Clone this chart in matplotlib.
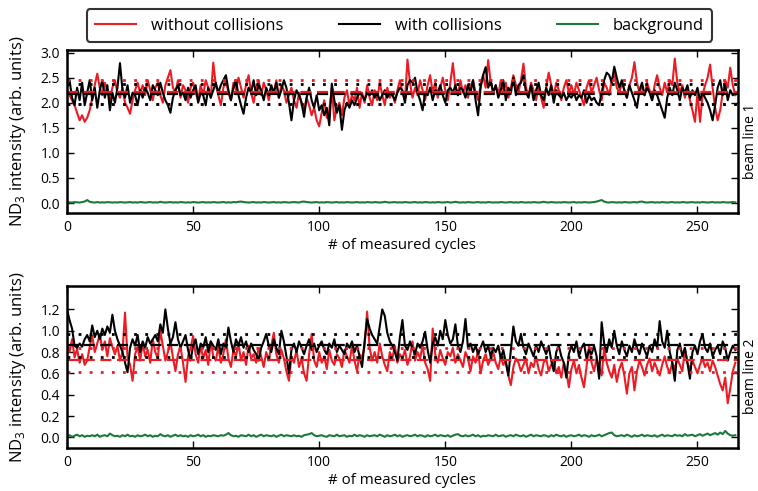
import numpy as np
import matplotlib
matplotlib.use("Agg")
import matplotlib.pyplot as plt

plt.rcParams['font.family'] = ['Open Sans', 'DejaVu Sans']
plt.rcParams['mathtext.fontset'] = 'custom'
plt.rcParams['mathtext.rm'] = 'Open Sans'

RED = '#ec1c24'
BLACK = '#000000'
GREEN = '#1b7a3a'

# beam line 1
bl1_without = [
    2.20, 2.15, 2.05, 1.95, 1.80, 1.65, 1.75, 1.62, 1.70, 1.85,
    2.10, 2.35, 2.58, 2.30, 2.15, 2.40, 2.25, 2.05, 2.30, 2.45,
    2.20, 2.10, 2.30, 2.00, 1.90, 1.78, 2.05, 2.25, 2.40, 2.20,
    2.35, 2.15, 2.45, 2.25, 2.05, 2.30, 2.40, 2.15, 2.00, 2.35,
    2.50, 2.65, 2.30, 2.20, 2.45, 2.10, 2.35, 2.25, 2.00, 2.30,
    2.40, 2.20, 2.05, 2.35, 2.15, 2.45, 2.30, 2.10, 2.80, 2.35,
    2.15, 1.95, 2.30, 2.45, 2.20, 2.05, 2.40, 2.25, 2.50, 2.30,
    2.10, 2.35, 2.55, 2.20, 2.00, 2.30, 2.45, 2.15, 2.40, 2.25,
    2.05, 2.30, 2.20, 2.45, 2.10, 2.35, 2.25, 2.00, 2.15, 2.30,
    2.05, 1.90, 2.20, 2.00, 1.85, 2.10, 1.95, 1.75, 1.90, 1.65,
    1.53, 1.80, 2.05, 1.70, 1.85, 2.30, 1.65, 1.90, 2.00, 1.75,
    2.10, 2.25, 1.95, 2.15, 2.05, 2.30, 1.90, 2.20, 2.00, 2.35,
    2.10, 1.95, 2.25, 2.05, 2.40, 2.15, 1.95, 2.30, 2.10, 2.20,
    2.00, 2.25, 2.45, 2.20, 2.05, 2.86, 2.40, 2.10, 2.30, 2.15,
    2.45, 2.25, 2.05, 2.35, 2.55, 2.20, 2.40, 2.10, 2.30, 2.50,
    2.25, 2.05, 2.40, 2.79, 2.30, 2.15, 2.45, 2.20, 2.35, 2.10,
    2.30, 2.45, 2.20, 2.05, 2.35, 2.55, 2.30, 2.85, 2.40, 2.20,
    2.35, 2.15, 2.45, 2.25, 2.40, 2.10, 2.30, 2.55, 2.35, 2.20,
    2.45, 2.78, 2.30, 2.15, 2.40, 2.25, 2.05, 2.35, 2.10, 1.90,
    2.30, 2.60, 2.35, 2.15, 2.40, 2.25, 2.05, 2.30, 2.45, 2.20,
    2.35, 2.15, 2.40, 2.25, 2.10, 1.95, 2.30, 2.45, 2.20, 2.35,
    2.50, 2.25, 2.05, 2.40, 2.30, 2.15, 2.45, 2.60, 2.30, 2.20,
    2.40, 2.25, 2.10, 2.35, 2.50, 2.81, 2.40, 2.20, 2.35, 2.15,
    2.40, 2.25, 2.05, 2.35, 2.55, 2.30, 2.15, 2.40, 2.20, 2.45,
    2.35, 2.88, 2.40, 2.20, 2.35, 2.10, 2.30, 2.05, 1.85, 1.62,
    2.20, 1.62, 2.15, 2.35, 2.50, 2.76, 2.30, 1.90, 1.65, 1.85,
    2.20, 2.45, 2.30, 2.70, 2.35, 2.15,
]
bl1_with = [
    2.50, 2.45, 2.10, 1.95, 2.30, 2.05, 2.40, 1.95, 2.20, 2.45,
    2.05, 2.30, 1.90, 2.25, 2.45, 2.10, 2.35, 1.85, 2.20, 2.00,
    2.30, 2.79, 2.25, 2.10, 2.35, 2.00, 2.20, 2.15, 1.95, 2.25,
    2.10, 2.30, 2.20, 2.05, 2.35, 2.25, 2.15, 2.40, 2.20, 2.05,
    1.95, 1.80, 2.10, 2.25, 2.35, 2.15, 2.20, 2.05, 2.30, 2.10,
    2.25, 2.35, 2.00, 2.20, 2.15, 1.95, 2.30, 2.10, 2.25, 2.40,
    2.20, 2.35, 2.45, 2.55, 2.25, 2.05, 2.30, 2.45, 2.15, 1.95,
    1.78, 2.10, 2.30, 2.20, 2.45, 2.15, 2.35, 2.25, 2.05, 2.30,
    2.15, 2.35, 2.20, 2.40, 2.10, 2.25, 2.45, 2.30, 2.00, 1.65,
    2.05, 2.25, 2.15, 2.00, 1.72, 2.10, 2.30, 2.05, 1.90, 2.15,
    1.85, 1.95, 1.75, 1.90, 1.55, 2.38, 2.05, 1.80, 1.95, 1.46,
    1.85, 2.00, 1.90, 2.05, 1.95, 2.10, 2.20, 2.15, 2.05, 2.20,
    2.15, 2.25, 2.10, 2.20, 2.05, 2.15, 2.25, 2.10, 2.20, 2.15,
    2.05, 2.20, 2.30, 2.25, 2.00, 2.35, 2.45, 2.40, 2.50, 2.20,
    2.05, 1.85, 2.20, 2.15, 2.30, 2.05, 2.25, 2.20, 2.35, 2.15,
    2.00, 2.25, 2.30, 2.20, 2.35, 2.15, 2.30, 2.25, 2.10, 2.35,
    2.20, 2.45, 2.05, 1.75, 2.30, 2.55, 2.71, 2.30, 2.45, 2.20,
    2.35, 2.10, 2.25, 2.45, 2.05, 2.30, 2.20, 2.50, 2.15, 2.35,
    2.40, 2.55, 2.20, 2.10, 2.35, 2.05, 2.25, 2.40, 2.15, 2.05,
    2.30, 2.15, 2.35, 2.00, 2.25, 2.15, 2.10, 2.20, 2.05, 2.15,
    2.10, 2.20, 2.05, 2.15, 2.10, 2.25, 2.00, 2.15, 2.05, 2.10,
    2.00, 1.95, 2.20, 2.45, 2.60, 2.55, 2.40, 2.72, 2.50, 2.30,
    2.45, 2.25, 2.10, 2.35, 2.20, 2.05, 1.90, 2.25, 2.40, 2.15,
    2.30, 2.20, 2.05, 2.25, 2.15, 2.00, 1.85, 1.70, 2.10, 2.30,
    2.15, 2.40, 2.25, 2.05, 2.30, 2.20, 2.35, 2.10, 2.25, 2.15,
    2.30, 2.05, 2.20, 2.10, 2.00, 1.85, 1.65, 1.95, 2.30, 2.45,
    2.15, 2.35, 2.05, 2.25, 2.15, 2.20,
]
bl1_background = [
    0.010, 0.015, 0.010, 0.020, 0.015, 0.010, 0.020, 0.030, 0.060, 0.025,
    0.015, 0.010, 0.020, 0.010, 0.015, 0.010, 0.020, 0.015, 0.010, 0.015,
    0.010, 0.020, 0.015, 0.010, 0.015, 0.020, 0.010, 0.015, 0.010, 0.020,
    0.015, 0.010, 0.015, 0.020, 0.010, 0.015, 0.010, 0.025, 0.015, 0.010,
    0.015, 0.020, 0.010, 0.015, 0.010, 0.020, 0.015, 0.010, 0.015, 0.010,
    0.020, 0.015, 0.010, 0.015, 0.020, 0.010, 0.015, 0.010, 0.020, 0.015,
    0.010, 0.015, 0.020, 0.010, 0.015, 0.010, 0.020, 0.015, 0.025, 0.030,
    0.020, 0.015, 0.010, 0.015, 0.020, 0.010, 0.015, 0.010, 0.020, 0.015,
    0.010, 0.015, 0.020, 0.010, 0.015, 0.010, 0.020, 0.015, 0.010, 0.015,
    0.020, 0.015, 0.010, 0.025, 0.030, 0.020, 0.015, 0.010, 0.015, 0.020,
    0.010, 0.015, 0.010, 0.020, 0.015, 0.010, 0.015, 0.020, 0.010, 0.015,
    0.010, 0.020, 0.015, 0.010, 0.015, 0.020, 0.010, 0.015, 0.010, 0.020,
    0.015, 0.010, 0.020, 0.015, 0.010, 0.015, 0.025, 0.015, 0.010, 0.015,
    0.020, 0.010, 0.015, 0.010, 0.020, 0.015, 0.010, 0.015, 0.020, 0.010,
    0.015, 0.010, 0.020, 0.015, 0.010, 0.015, 0.010, 0.020, 0.015, 0.010,
    0.015, 0.020, 0.010, 0.015, 0.025, 0.015, 0.010, 0.015, 0.010, 0.020,
    0.015, 0.010, 0.015, 0.020, 0.010, 0.015, 0.010, 0.020, 0.015, 0.010,
    0.015, 0.010, 0.020, 0.015, 0.010, 0.015, 0.020, 0.010, 0.015, 0.010,
    0.020, 0.015, 0.010, 0.015, 0.010, 0.020, 0.015, 0.010, 0.015, 0.025,
    0.015, 0.010, 0.020, 0.015, 0.010, 0.015, 0.010, 0.020, 0.015, 0.010,
    0.015, 0.020, 0.010, 0.015, 0.010, 0.020, 0.015, 0.010, 0.015, 0.020,
    0.030, 0.045, 0.060, 0.030, 0.015, 0.010, 0.020, 0.015, 0.010, 0.015,
    0.010, 0.020, 0.015, 0.010, 0.015, 0.020, 0.010, 0.025, 0.030, 0.015,
    0.010, 0.015, 0.020, 0.010, 0.015, 0.010, 0.020, 0.015, 0.010, 0.015,
    0.020, 0.010, 0.015, 0.010, 0.020, 0.015, 0.010, 0.015, 0.020, 0.010,
    0.015, 0.010, 0.020, 0.015, 0.010, 0.015, 0.020, 0.010, 0.015, 0.010,
    0.020, 0.015, 0.010, 0.015, 0.020, 0.015,
]

# beam line 2
bl2_without = [
    0.88, 0.80, 0.92, 0.75, 0.83, 0.70, 0.78, 0.68, 0.72, 0.85,
    0.95, 0.80, 0.88, 0.97, 0.82, 0.90, 0.76, 0.93, 0.85, 0.78,
    0.86, 0.72, 0.80, 1.17, 0.75, 0.68, 0.53, 0.78, 0.85, 0.72,
    0.88, 0.76, 0.82, 0.70, 0.92, 0.80, 0.74, 1.00, 0.86, 0.72,
    0.80, 0.90, 0.75, 0.62, 0.78, 0.85, 0.70, 0.52, 0.76, 0.84,
    0.95, 0.78, 0.70, 0.86, 0.74, 0.82, 0.68, 0.90, 0.76, 0.72,
    0.85, 0.70, 0.78, 0.92, 0.74, 0.66, 0.82, 0.76, 0.88, 0.72,
    0.80, 0.68, 0.86, 0.74, 0.78, 0.70, 0.84, 0.76, 0.66, 0.80,
    0.72, 0.86, 0.98, 0.78, 0.70, 0.82, 0.74, 0.62, 0.53, 0.76,
    0.70, 0.82, 0.66, 0.74, 0.60, 0.53, 0.78, 0.97, 0.72, 0.66,
    0.80, 0.70, 0.76, 0.64, 0.82, 0.72, 0.68, 0.78, 0.74, 0.66,
    0.82, 0.76, 0.70, 0.86, 0.72, 0.62, 0.78, 0.74, 0.86, 1.18,
    0.84, 0.72, 0.80, 0.70, 0.88, 0.76, 0.68, 0.62, 0.80, 0.74,
    0.86, 0.70, 0.78, 0.74, 0.82, 0.68, 0.76, 0.90, 0.72, 0.80,
    0.74, 0.86, 0.70, 0.64, 0.53, 1.02, 0.78, 0.70, 0.82, 0.74,
    0.68, 0.80, 0.76, 0.84, 0.70, 0.78, 0.72, 0.66, 0.80, 0.74,
    0.62, 0.76, 0.70, 0.82, 0.60, 0.72, 0.78, 0.68, 0.74, 0.80,
    0.70, 0.64, 0.76, 0.68, 0.72, 0.58, 0.49, 0.66, 0.74, 0.70,
    0.62, 0.68, 0.74, 0.60, 0.70, 0.66, 0.76, 0.64, 0.58, 0.70,
    0.74, 0.62, 0.68, 0.72, 0.60, 0.66, 0.56, 0.70, 0.62, 0.47,
    0.64, 0.72, 0.60, 0.68, 0.56, 0.47, 0.66, 0.86, 0.70, 0.62,
    0.74, 0.66, 0.58, 0.84, 0.70, 0.62, 0.56, 0.68, 0.52, 0.64,
    0.70, 0.58, 0.41, 0.60, 0.66, 0.44, 0.62, 0.72, 0.66, 0.58,
    0.68, 0.74, 0.62, 0.70, 0.64, 0.58, 0.68, 0.76, 0.66, 0.60,
    0.70, 0.64, 0.74, 0.68, 0.62, 0.83, 0.70, 0.64, 0.72, 0.66,
    0.60, 0.68, 0.74, 0.66, 0.70, 0.62, 0.72, 0.66, 0.58, 0.50,
    0.44, 0.56, 0.32, 0.46, 0.62, 0.70,
]
bl2_with = [
    1.20, 1.10, 1.02, 0.86, 0.84, 0.88, 0.85, 0.92, 0.96, 0.90,
    1.05, 0.94, 1.00, 0.92, 1.02, 0.96, 1.04, 0.98, 1.15, 1.00,
    0.92, 0.86, 0.80, 0.70, 0.61, 0.84, 0.92, 0.86, 0.96, 0.80,
    0.90, 0.84, 0.94, 0.88, 0.92, 0.96, 0.90, 1.06, 0.98, 1.20,
    1.02, 0.88, 0.94, 1.08, 0.92, 0.84, 0.90, 0.96, 0.82, 0.72,
    0.86, 0.92, 0.78, 0.88, 0.84, 0.94, 0.80, 0.90, 0.86, 0.82,
    0.92, 0.78, 0.88, 0.84, 1.03, 0.90, 0.80, 0.92, 0.86, 0.94,
    0.84, 0.90, 0.80, 0.88, 0.82, 0.78, 0.72, 0.84, 0.90, 0.97,
    0.86, 0.80, 0.92, 0.84, 0.78, 1.00, 0.90, 0.76, 0.60, 0.82,
    0.88, 0.80, 0.90, 0.84, 0.78, 0.86, 0.92, 0.82, 0.88, 0.80,
    0.86, 0.90, 0.82, 0.78, 0.88, 0.84, 0.92, 0.80, 0.86, 0.82,
    0.78, 0.88, 0.84, 0.90, 0.80, 0.86, 0.76, 0.66, 0.90, 1.11,
    1.02, 0.96, 0.92, 0.88, 1.04, 1.20, 1.14, 0.98, 0.90, 0.86,
    0.80, 0.72, 0.94, 1.10, 0.86, 0.82, 0.90, 0.84, 0.78, 0.88,
    0.84, 0.90, 0.99, 0.82, 0.70, 0.88, 0.94, 0.86, 1.00, 0.92,
    1.10, 0.96, 0.88, 0.92, 1.06, 0.86, 0.80, 0.90, 1.11, 0.84,
    0.88, 0.80, 0.86, 0.78, 0.84, 0.90, 0.80, 0.86, 0.76, 0.84,
    0.80, 0.86, 0.74, 0.82, 0.70, 0.58, 0.82, 1.04, 0.90, 0.86,
    0.97, 0.84, 0.78, 0.88, 0.82, 0.76, 0.86, 0.80, 0.90, 0.84,
    0.78, 0.86, 0.72, 0.62, 0.80, 0.86, 0.76, 0.70, 0.56, 0.78,
    0.86, 0.80, 0.90, 0.76, 0.84, 0.88, 0.74, 0.82, 0.78, 0.86,
    0.76, 0.55, 1.08, 0.88, 0.80, 0.92, 0.84, 1.00, 0.86, 0.78,
    0.90, 0.82, 0.76, 0.86, 0.80, 0.92, 0.84, 0.78, 0.88, 0.82,
    0.76, 0.86, 0.80, 0.92, 0.84, 1.09, 0.90, 0.84, 1.00, 0.80,
    0.70, 0.53, 0.82, 0.88, 0.76, 0.84, 0.70, 0.55, 0.80, 0.86,
    0.78, 0.90, 0.97, 0.84, 0.80, 0.88, 0.76, 0.82, 0.86, 0.78,
    0.90, 0.84, 0.72, 0.80, 0.86, 0.82,
]
bl2_background = [
    0.010, 0.020, 0.005, 0.015, 0.025, 0.010, 0.020, 0.005, 0.015, 0.010,
    0.020, 0.010, 0.025, 0.005, 0.015, 0.020, 0.010, 0.035, 0.020, 0.010,
    0.015, 0.005, 0.020, 0.010, 0.025, 0.010, 0.015, 0.005, 0.020, 0.010,
    0.015, 0.025, 0.010, 0.020, 0.005, 0.015, 0.010, 0.030, 0.015, 0.010,
    0.020, 0.005, 0.015, 0.025, 0.010, 0.020, 0.010, 0.015, 0.005, 0.020,
    0.010, 0.015, 0.025, 0.010, 0.020, 0.005, 0.015, 0.010, 0.020, 0.015,
    0.010, 0.020, 0.015, 0.025, 0.040, 0.020, 0.010, 0.015, 0.005, 0.020,
    0.015, 0.010, 0.025, 0.010, 0.020, 0.005, 0.015, 0.025, 0.010, 0.020,
    0.015, 0.010, 0.020, 0.005, 0.015, 0.025, 0.010, 0.020, 0.015, 0.010,
    0.020, 0.010, 0.015, 0.005, 0.020, 0.025, 0.030, 0.040, 0.020, 0.010,
    0.015, 0.020, 0.010, 0.005, 0.020, 0.015, 0.010, 0.025, 0.010, 0.015,
    0.020, 0.005, 0.015, 0.010, 0.025, 0.010, 0.020, 0.015, 0.005, 0.020,
    0.010, 0.015, 0.020, 0.010, 0.025, 0.015, 0.005, 0.020, 0.010, 0.015,
    0.025, 0.010, 0.020, 0.005, 0.015, 0.020, 0.010, 0.015, 0.025, 0.010,
    0.020, 0.015, 0.005, 0.020, 0.010, 0.015, 0.025, 0.010, 0.020, 0.015,
    0.010, 0.020, 0.005, 0.015, 0.025, 0.030, 0.015, 0.010, 0.020, 0.010,
    0.015, 0.025, 0.010, 0.020, 0.005, 0.015, 0.010, 0.020, 0.015, 0.010,
    0.025, 0.010, 0.015, 0.020, 0.005, 0.015, 0.020, 0.010, 0.025, 0.015,
    0.010, 0.020, 0.005, 0.015, 0.025, 0.010, 0.020, 0.015, 0.010, 0.020,
    0.015, 0.005, 0.020, 0.010, 0.025, 0.015, 0.010, 0.020, 0.005, 0.015,
    0.020, 0.010, 0.015, 0.025, 0.010, 0.020, 0.015, 0.005, 0.020, 0.010,
    0.015, 0.025, 0.010, 0.020, 0.030, 0.040, 0.045, 0.020, 0.010, 0.015,
    0.020, 0.010, 0.025, 0.015, 0.005, 0.020, 0.010, 0.015, 0.025, 0.010,
    0.020, 0.015, 0.010, 0.020, 0.005, 0.015, 0.025, 0.010, 0.020, 0.015,
    0.010, 0.025, 0.015, 0.020, 0.010, 0.030, 0.015, 0.020, 0.025, 0.010,
    0.020, 0.030, 0.015, 0.025, 0.035, 0.020, 0.030, 0.040, 0.025, 0.045,
    0.030, 0.060, 0.035, 0.020, 0.015, 0.020,
]

panels = [
    (bl1_without, bl1_with, bl1_background, (-0.2, 3.05), np.arange(0, 3.01, 0.5), 'beam line 1'),
    (bl2_without, bl2_with, bl2_background, (-0.1, 1.42), np.arange(0, 1.21, 0.2), 'beam line 2'),
]

fig = plt.figure(figsize=(7.58, 4.91), dpi=100)
ax_rects = [[0.0884, 0.566, 0.885, 0.332], [0.0884, 0.0876, 0.885, 0.330]]

for rect, (without, withc, bg, ylim, yticks, name) in zip(ax_rects, panels):
    ax = fig.add_axes(rect)
    cycles = np.arange(len(without))
    ax.plot(cycles, without, color=RED, lw=1.5, label='without collisions')
    ax.plot(cycles, withc, color=BLACK, lw=1.5, label='with collisions')
    ax.plot(np.arange(len(bg)), bg, color=GREEN, lw=1.5, label='background')

    # mean (dashed) and one standard deviation (dotted)
    for series, c in [(without, RED), (withc, BLACK)]:
        m, s = np.mean(series), np.std(series)
        ax.axhline(m, color=c, lw=1.6, ls=(0, (5, 2.5)))
        ax.axhline(m + s, color=c, lw=2.0, ls=(0, (1, 3)))
        ax.axhline(m - s, color=c, lw=2.0, ls=(0, (1, 3)))

    ax.set_xlim(0, 266)
    ax.set_ylim(*ylim)
    ax.set_xticks(np.arange(0, 251, 50))
    ax.set_yticks(yticks)
    ax.set_yticklabels(['%.1f' % v for v in yticks])
    ax.tick_params(direction='in', length=5, width=1, top=True, right=True,
                   labelsize=10, pad=5)
    for sp in ax.spines.values():
        sp.set_linewidth(1.8)
    ax.set_xlabel('# of measured cycles', fontsize=10.8, labelpad=2)
    ax.set_ylabel('ND$_\\mathregular{3}$ intensity (arb. units)', fontsize=12)
    ax.yaxis.set_label_coords(-0.058, 0.5)

    # beam line name along the right edge of the figure
    y_mid = rect[1] + 0.44 * rect[3]
    fig.text(0.9995, y_mid, name, rotation=90, ha='right', va='center', fontsize=10)

    if name == 'beam line 1':
        handles, labels = ax.get_legend_handles_labels()

leg = fig.legend(handles, labels, loc='center', ncol=3,
                 bbox_to_anchor=(399.5 / 758, 1 - 25.5 / 491),
                 fontsize=11.8, handlelength=2.5, handletextpad=0.9,
                 columnspacing=3.4, frameon=True, fancybox=True,
                 borderpad=0.5)
leg.get_frame().set_edgecolor('black')
leg.get_frame().set_linewidth(1.5)

fig.savefig('out.png', dpi=100)
